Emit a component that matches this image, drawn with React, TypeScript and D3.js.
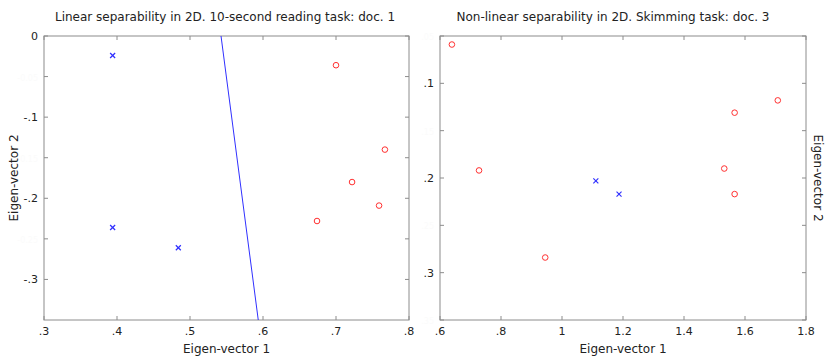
import React from "react";
import * as d3 from "d3";

// Left panel data
const leftTitle = "Linear separability in 2D. 10-second reading task: doc. 1";
const leftBlueX = [0.394, 0.394, 0.484];
const leftBlueY = [-0.024, -0.236, -0.261];
const leftRedX = [0.7, 0.767, 0.722, 0.759, 0.674];
const leftRedY = [-0.036, -0.14, -0.18, -0.209, -0.228];
const leftLineX = [0.5425, 0.5935];
const leftLineY = [0, -0.35];
const leftXTicks = [0.3, 0.4, 0.5, 0.6, 0.7, 0.8];
const leftXTickLabels = [".3", ".4", ".5", ".6", ".7", ".8"];
const leftYTicks = [0, -0.05, -0.1, -0.15, -0.2, -0.25, -0.3];
const leftYTickLabels = ["0", "-0.05", "-.1", "-0.15", "-.2", "-0.25", "-.3"];
const leftYTickFaint = [false, true, false, true, false, true, false];

// Right panel data
const rightTitle = "Non-linear separability in 2D. Skimming task: doc. 3";
const rightRedX = [0.639, 0.728, 1.566, 1.7075, 1.532, 1.566, 0.945];
const rightRedY = [0.059, 0.192, 0.131, 0.118, 0.19, 0.217, 0.284];
const rightBlueX = [1.111, 1.187];
const rightBlueY = [0.203, 0.217];
const rightXTicks = [0.6, 0.8, 1.0, 1.2, 1.4, 1.6, 1.8];
const rightXTickLabels = [".6", ".8", "1", "1.2", "1.4", "1.6", "1.8"];
const rightYTicks = [0.05, 0.1, 0.15, 0.2, 0.25, 0.3, 0.35];
const rightYTickLabels = [".05", ".1", ".15", ".2", ".25", ".3", ".35"];
const rightYTickFaint = [true, false, true, false, true, false, true];

const FONT = "DejaVu Sans, sans-serif";
const FRAME = "#8c8c8c";
const BLUE = "#3030ff";
const RED = "#ff3030";

type PanelProps = {
  left: number;
  right: number;
  top: number;
  bottom: number;
  xDomain: [number, number];
  yDomain: [number, number];
  xTicks: number[];
  xLabels: string[];
  yTicks: number[];
  yLabels: string[];
  yFaint: boolean[];
  title: string;
  titleX: number;
  yLabelSide: "left" | "right";
  yLabelX: number;
  blueX: number[];
  blueY: number[];
  redX: number[];
  redY: number[];
  lineX?: number[];
  lineY?: number[];
};

function Panel(p: PanelProps) {
  const x = d3.scaleLinear().domain(p.xDomain).range([p.left, p.right]);
  const y = d3.scaleLinear().domain(p.yDomain).range([p.top, p.bottom]);
  const tl = 4;
  const line = d3
    .line<number>()
    .x((_, i) => x(p.lineX![i]))
    .y((_, i) => y(p.lineY![i]));
  const midY = (p.top + p.bottom) / 2;
  return (
    <g>
      <text x={p.titleX} y={21} textAnchor="middle" fontSize={12} fontFamily={FONT} fill="#222">
        {p.title}
      </text>
      <rect x={p.left} y={p.top} width={p.right - p.left} height={p.bottom - p.top} fill="none" stroke={FRAME} strokeWidth={1} />
      {p.xTicks.map((t, i) => (
        <g key={"xt" + i}>
          <line x1={x(t)} x2={x(t)} y1={p.bottom} y2={p.bottom - tl} stroke={FRAME} />
          <line x1={x(t)} x2={x(t)} y1={p.top} y2={p.top + tl} stroke={FRAME} />
          <text x={x(t)} y={p.bottom + 15} textAnchor="middle" fontSize={11} fontFamily={FONT} fill="#222">
            {p.xLabels[i]}
          </text>
        </g>
      ))}
      {p.yTicks.map((t, i) => (
        <g key={"yt" + i}>
          <line x1={p.left} x2={p.left + tl} y1={y(t)} y2={y(t)} stroke={FRAME} />
          <line x1={p.right} x2={p.right - tl} y1={y(t)} y2={y(t)} stroke={FRAME} />
          <text
            x={p.left - 6}
            y={y(t) + 4}
            textAnchor="end"
            fontSize={p.yFaint[i] ? 8 : 11}
            fontFamily={FONT}
            fill={p.yFaint[i] ? "#fbfbfb" : "#222"}
          >
            {p.yLabels[i]}
          </text>
        </g>
      ))}
      <text x={(p.left + p.right) / 2} y={353} textAnchor="middle" fontSize={12} fontFamily={FONT} fill="#222">
        Eigen-vector 1
      </text>
      <text
        transform={`translate(${p.yLabelX},${midY}) rotate(${p.yLabelSide === "left" ? -90 : 90})`}
        textAnchor="middle"
        fontSize={12}
        fontFamily={FONT}
        fill="#222"
      >
        Eigen-vector 2
      </text>
      {p.lineX && (
        <path d={line(p.lineX) || ""} fill="none" stroke={BLUE} strokeWidth={1} />
      )}
      {p.blueX.map((v, i) => {
        const cx = x(v);
        const cy = y(p.blueY[i]);
        return (
          <g key={"b" + i} stroke={BLUE} strokeWidth={1.2}>
            <line x1={cx - 2.5} x2={cx + 2.5} y1={cy - 2.5} y2={cy + 2.5} />
            <line x1={cx - 2.5} x2={cx + 2.5} y1={cy + 2.5} y2={cy - 2.5} />
          </g>
        );
      })}
      {p.redX.map((v, i) => (
        <circle key={"r" + i} cx={x(v)} cy={y(p.redY[i])} r={2.8} fill="none" stroke={RED} strokeWidth={1} />
      ))}
    </g>
  );
}

export default function App() {
  return (
    <svg width={826} height={358} style={{ position: "absolute", left: 0, top: 0, background: "#fff" }}>
      <Panel
        left={44}
        right={409}
        top={36}
        bottom={320}
        xDomain={[0.3, 0.8]}
        yDomain={[0, -0.35]}
        xTicks={leftXTicks}
        xLabels={leftXTickLabels}
        yTicks={leftYTicks}
        yLabels={leftYTickLabels}
        yFaint={leftYTickFaint}
        title={leftTitle}
        titleX={225}
        yLabelSide="left"
        yLabelX={18}
        blueX={leftBlueX}
        blueY={leftBlueY}
        redX={leftRedX}
        redY={leftRedY}
        lineX={leftLineX}
        lineY={leftLineY}
      />
      <Panel
        left={440}
        right={806}
        top={36}
        bottom={320}
        xDomain={[0.6, 1.8]}
        yDomain={[0.05, 0.35]}
        xTicks={rightXTicks}
        xLabels={rightXTickLabels}
        yTicks={rightYTicks}
        yLabels={rightYTickLabels}
        yFaint={rightYTickFaint}
        title={rightTitle}
        titleX={613}
        yLabelSide="right"
        yLabelX={814}
        blueX={rightBlueX}
        blueY={rightBlueY}
        redX={rightRedX}
        redY={rightRedY}
      />
    </svg>
  );
}
